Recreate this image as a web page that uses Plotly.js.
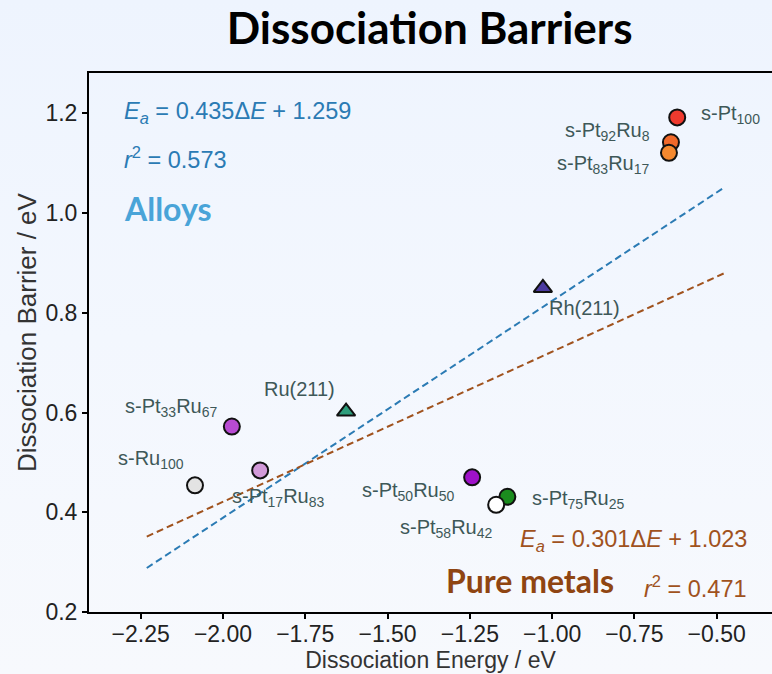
<!DOCTYPE html>
<html>
<head>
<meta charset="utf-8">
<script src="https://cdn.plot.ly/plotly-3.0.1.min.js"></script>
<style>
html,body{margin:0;padding:0;}
body{background:linear-gradient(to bottom,#eef4fe 0%,#f3f7fe 50%,#f7f9fd 100%);}
#chart{width:772px;height:674px;}
</style>
</head>
<body>
<div id="chart"></div>
<script>
// ---- data ----
const labels = ["s-Pt<sub>100</sub>", "s-Pt<sub>92</sub>Ru<sub>8</sub>", "s-Pt<sub>83</sub>Ru<sub>17</sub>",
  "Rh(211)", "Ru(211)", "s-Pt<sub>33</sub>Ru<sub>67</sub>", "s-Pt<sub>17</sub>Ru<sub>83</sub>",
  "s-Ru<sub>100</sub>", "s-Pt<sub>50</sub>Ru<sub>50</sub>", "s-Pt<sub>75</sub>Ru<sub>25</sub>", "s-Pt<sub>58</sub>Ru<sub>42</sub>"];
const dissocEnergy = [-0.620, -0.639, -0.645, -1.028, -1.626, -1.973, -1.887, -2.085, -1.243, -1.136, -1.170];
const dissocBarrier = [1.192, 1.142, 1.121, 0.850, 0.602, 0.572, 0.484, 0.454, 0.470, 0.431, 0.415];
const pointColors = ["#ef3a2e", "#f0692a", "#f5892f", "#4b3a9f", "#2e9e7c", "#b84bd3", "#d29ad9",
  "#e3e3e3", "#9f12c9", "#1b8c1e", "#ffffff"];
const pointSymbols = ["circle", "circle", "circle", "triangle-up", "triangle-up", "circle", "circle",
  "circle", "circle", "circle", "circle"];
// fits: [slope, intercept] and x extent of the fitted lines
const alloysFit = [0.435, 1.259];
const pureFit = [0.301, 1.023];
const fitRangeX = [-2.2315, -0.4735];
const xTicks = [-2.25, -2.00, -1.75, -1.50, -1.25, -1.00, -0.75, -0.50];
const yTicks = [0.2, 0.4, 0.6, 0.8, 1.0, 1.2];

// ---- label placement (pixel offsets from each point) ----
const labelPlacement = [
  {xa: "left", dx: 22, dy: 3},
  {xa: "right", dx: -19, dy: 11},
  {xa: "right", dx: -17, dy: -12},
  {xa: "left", dx: 4, dy: -20},
  {xa: "right", dx: -9, dy: 23},
  {xa: "right", dx: -12, dy: 19},
  {xa: "left", dx: -30, dy: -27},
  {xa: "right", dx: -9, dy: 26},
  {xa: "right", dx: -15, dy: -14},
  {xa: "left", dx: 23, dy: -3},
  {xa: "right", dx: -1, dy: -24}
];

const sansFont = "Liberation Sans, Arial, sans-serif";
const boldFont = "Lato, sans-serif";
const blue = "#2b7bb4";
const brown = "#a0521d";

const traces = [
  {
    x: fitRangeX, y: fitRangeX.map(v => alloysFit[0] * v + alloysFit[1]),
    mode: "lines", line: {color: blue, width: 2, dash: "7px,4px"},
    hoverinfo: "skip", showlegend: false
  },
  {
    x: fitRangeX, y: fitRangeX.map(v => pureFit[0] * v + pureFit[1]),
    mode: "lines", line: {color: brown, width: 2, dash: "7px,4px"},
    hoverinfo: "skip", showlegend: false
  },
  {
    x: dissocEnergy, y: dissocBarrier, text: labels,
    mode: "markers",
    marker: {size: 16, color: pointColors, symbol: pointSymbols, line: {color: "#111111", width: 2}},
    hoverinfo: "text", showlegend: false
  }
];

const annotations = labels.map((t, i) => ({
  x: dissocEnergy[i], y: dissocBarrier[i], xref: "x", yref: "y",
  text: t, showarrow: false, xanchor: labelPlacement[i].xa, yanchor: "middle",
  xshift: labelPlacement[i].dx, yshift: labelPlacement[i].dy,
  font: {family: sansFont, size: 20, color: "#3e5858"}
}));

annotations.push(
  {xref: "paper", yref: "paper", x: -0.0908, y: 0.5195, xanchor: "center", yanchor: "middle", showarrow: false,
   textangle: -90, text: "Dissociation Barrier / eV", font: {family: sansFont, size: 26, color: "#333"}},
  {xref: "paper", yref: "paper", x: 0.048, y: 0.926, xanchor: "left", yanchor: "middle", showarrow: false,
   text: "<i>E</i><sub><i>a</i></sub> = 0.435Δ<i>E</i> + 1.259", font: {family: sansFont, size: 23.5, color: blue}},
  {xref: "paper", yref: "paper", x: 0.048, y: 0.842, xanchor: "left", yanchor: "middle", showarrow: false,
   text: "<i>r</i><sup>2</sup> = 0.573", font: {family: sansFont, size: 23.5, color: blue}},
  {xref: "paper", yref: "paper", x: 0.049, y: 0.748, xanchor: "left", yanchor: "middle", showarrow: false,
   text: "<b>Alloys</b>", font: {family: boldFont, size: 32, color: "#49a4d8"}},
  {xref: "paper", yref: "paper", x: 0.966, y: 0.132, xanchor: "right", yanchor: "middle", showarrow: false,
   text: "<i>E</i><sub><i>a</i></sub> = 0.301Δ<i>E</i> + 1.023", font: {family: sansFont, size: 23.5, color: brown}},
  {xref: "paper", yref: "paper", x: 0.966, y: 0.046, xanchor: "right", yanchor: "middle", showarrow: false,
   text: "<i>r</i><sup>2</sup> = 0.471", font: {family: sansFont, size: 23.5, color: brown}},
  {xref: "paper", yref: "paper", x: 0.52, y: 0.059, xanchor: "left", yanchor: "middle", showarrow: false,
   text: "<b>Pure metals</b>", font: {family: boldFont, size: 32, color: "#8f4512"}}
);

const layout = {
  width: 772, height: 674,
  margin: {l: 89, r: 0, t: 73, b: 62},
  paper_bgcolor: "rgba(0,0,0,0)", plot_bgcolor: "rgba(0,0,0,0)",
  title: {text: "<b>Dissociation Barriers</b>", x: 0.5565, xanchor: "center", y: 0.958, yanchor: "middle",
          font: {family: boldFont, size: 44, color: "#000000"}},
  xaxis: {
    range: [-2.407, -0.332], tickvals: xTicks, ticktext: xTicks.map(v => (v < 0 ? "\u2212" : "") + Math.abs(v).toFixed(2)),
    showgrid: false, zeroline: false, showline: true, linecolor: "#000", linewidth: 2, mirror: true,
    ticks: "outside", ticklen: 5, tickwidth: 2, tickcolor: "#000", ticklabelstandoff: -5,
    tickfont: {family: sansFont, size: 23, color: "#222"},
    title: {text: "Dissociation Energy / eV", font: {family: sansFont, size: 23, color: "#333"}, standoff: 4}
  },
  yaxis: {
    range: [0.2, 1.281], tickvals: yTicks, ticktext: yTicks.map(v => v.toFixed(1)),
    showgrid: false, zeroline: false, showline: true, linecolor: "#000", linewidth: 2, mirror: false,
    ticks: "outside", ticklen: 5, tickwidth: 2, tickcolor: "#000",
    tickfont: {family: sansFont, size: 23, color: "#222"}
  },
  annotations: annotations
};

Plotly.newPlot("chart", traces, layout, {displayModeBar: false, staticPlot: true});
</script>
</body>
</html>
